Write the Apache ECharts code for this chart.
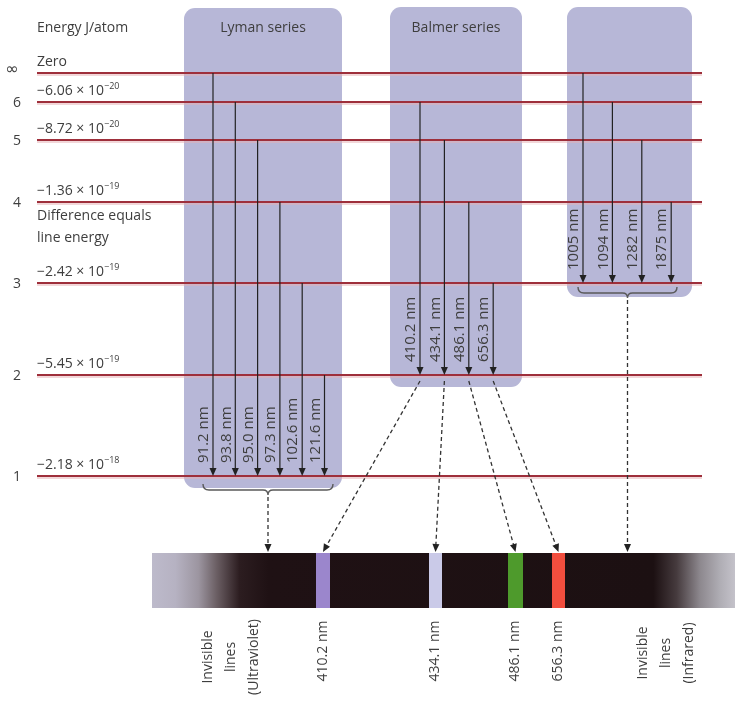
<!DOCTYPE html>
<html>
<head>
<meta charset="utf-8">
<script src="https://cdn.jsdelivr.net/npm/echarts@6/dist/echarts.min.js"></script>
<style>
html, body { margin: 0; padding: 0; background: #fff; }
#main { width: 735px; height: 707px; }
</style>
</head>
<body>
<div id="main"></div>
<script>
// energy levels of the hydrogen atom
const levelNames = ['∞', '6', '5', '4', '3', '2', '1'];
const levelMantissa = ['Zero', '−6.06', '−8.72', '−1.36', '−2.42', '−5.45', '−2.18'];
const levelExponent = ['', '−20', '−20', '−19', '−19', '−19', '−18'];

// transitions: start level -> end level, wavelength in nm
const seriesTitles = ['Lyman series', 'Balmer series', ''];
const seriesTo = ['1', '2', '3'];
const lymanFrom = ['∞', '6', '5', '4', '3', '2'];
const lymanNm = ['91.2', '93.8', '95.0', '97.3', '102.6', '121.6'];
const balmerFrom = ['6', '5', '4', '3'];
const balmerNm = ['410.2', '434.1', '486.1', '656.3'];
const paschenFrom = ['∞', '6', '5', '4'];
const paschenNm = ['1005', '1094', '1282', '1875'];

// spectrum
const visibleNm = ['410.2', '434.1', '486.1', '656.3'];
const invisibleLabels = ['Invisible\nlines\n(Ultraviolet)', 'Invisible\nlines\n(Infrared)'];

// ---- layout (diagram space, 735 x 707) ----
const W = 735, H = 707;
const FONT = '"Open Sans", "DejaVu Sans", sans-serif';
const TEXT = '#3e3e3e';
const levelY = [73, 102, 140, 202, 283, 375, 476];
const levelX = [37, 702];
const boxRects = [[184, 8, 342, 488], [390, 7, 522, 387], [567, 7, 692, 297]];
const colX0 = [213, 420, 583];
const colStep = [22.3, 24.4, 29.4];
const bracketPos = [[203, 333, 490], [578, 677, 293]];
const specRect = [152, 553, 735, 608];
const barX = [316, 429, 508, 552];
const barW = [14, 13, 15, 13];
const barColors = ['#9b86cc', '#cacae8', '#4e9a2c', '#f24e3e'];
const invisibleX = [231, 666];
const invisibleY = [657, 653];

const families = [
  { from: lymanFrom, nm: lymanNm },
  { from: balmerFrom, nm: balmerNm },
  { from: paschenFrom, nm: paschenNm }
];
const transitions = [];
families.forEach((f, fi) => f.from.forEach((lv, k) => transitions.push([fi, k])));

const colX = (fi, k) => colX0[fi] + k * colStep[fi];
const lvY = name => levelY[levelNames.indexOf(name)];

function arrowHead(tip, from, len, half) {
  const dx = tip[0] - from[0], dy = tip[1] - from[1];
  const l = Math.sqrt(dx * dx + dy * dy);
  const ux = dx / l, uy = dy / l;
  const bx = tip[0] - ux * len, by = tip[1] - uy * len;
  return {
    type: 'polygon',
    shape: { points: [tip, [bx - uy * half, by + ux * half], [bx + uy * half, by - ux * half]] },
    style: { fill: '#222' }
  };
}

function dashedArrow(api, x1, y1, x2, y2) {
  const a = api.coord([x1, y1]), b = api.coord([x2, y2]);
  const dx = b[0] - a[0], dy = b[1] - a[1];
  const l = Math.sqrt(dx * dx + dy * dy);
  return [
    { type: 'line', shape: { x1: a[0], y1: a[1], x2: b[0] - dx / l * 6, y2: b[1] - dy / l * 6 },
      style: { stroke: '#333', lineWidth: 1.3, lineDash: [4, 3] } },
    arrowHead(b, a, 8, 3.5)
  ];
}

const txt = (p, text, size, extra) => ({
  type: 'text', x: p[0], y: p[1],
  style: Object.assign({ text: text, fill: TEXT, fontSize: size, fontFamily: FONT }, extra)
});

const chart = echarts.init(document.getElementById('main'));

const option = {
  animation: false,
  grid: { left: 0, right: 0, top: 0, bottom: 0 },
  xAxis: { type: 'value', min: 0, max: W, show: false },
  yAxis: { type: 'value', min: 0, max: H, inverse: true, show: false },
  series: [
    {
      // series boxes
      type: 'custom', silent: true, clip: false,
      data: boxRects.map((r, i) => [i, 0]),
      renderItem: (params, api) => {
        const r = boxRects[params.dataIndex];
        const a = api.coord([r[0], r[1]]), b = api.coord([r[2], r[3]]);
        const t = api.coord([(r[0] + r[2]) / 2, 28]);
        return { type: 'group', children: [
          { type: 'rect', shape: { x: a[0], y: a[1], width: b[0] - a[0], height: b[1] - a[1], r: 11 },
            style: { fill: '#b7b7d7' } },
          txt(t, seriesTitles[params.dataIndex], 14, { align: 'center', verticalAlign: 'middle' })
        ] };
      }
    },
    {
      // energy levels
      type: 'custom', silent: true, clip: false,
      data: levelNames.map((n, i) => [i, 0]),
      renderItem: (params, api) => {
        const i = params.dataIndex;
        const a = api.coord([levelX[0], levelY[i]]), b = api.coord([levelX[1], levelY[i]]);
        const num = api.coord([i === 0 ? 12 : 17, levelY[i] + (i === 0 ? -3 : 1)]);
        const lab = api.coord([levelX[0], levelY[i] - 11]);
        const text = levelExponent[i]
          ? '{m|' + levelMantissa[i] + ' × 10}{s|' + levelExponent[i] + '}'
          : '{m|' + levelMantissa[i] + '}';
        return { type: 'group', children: [
          { type: 'line', shape: { x1: a[0], y1: a[1] + 2, x2: b[0], y2: b[1] + 2 },
            style: { stroke: '#e6b0b4', lineWidth: 1.2 } },
          { type: 'line', shape: { x1: a[0], y1: a[1], x2: b[0], y2: b[1] },
            style: { stroke: '#9e2f3b', lineWidth: 2 } },
          txt(num, levelNames[i], i === 0 ? 16 : 14, {
            align: 'center', verticalAlign: 'middle',
            fontFamily: i === 0 ? '"DejaVu Sans", sans-serif' : FONT
          }),
          txt(lab, text, 14, {
            align: 'left', verticalAlign: 'middle',
            rich: {
              m: { fontSize: 14, fontFamily: FONT, fill: TEXT, lineHeight: 18 },
              s: { fontSize: 9, fontFamily: FONT, fill: TEXT, verticalAlign: 'top', lineHeight: 10 }
            }
          })
        ] };
      }
    },
    {
      // transitions
      type: 'custom', silent: true, clip: false,
      data: transitions.map((t, i) => [i, 0]),
      renderItem: (params, api) => {
        const [fi, k] = transitions[params.dataIndex];
        const f = families[fi];
        const x = colX(fi, k);
        const yFrom = lvY(f.from[k]), yTo = lvY(seriesTo[fi]);
        const a = api.coord([x, yFrom]), b = api.coord([x, yTo]);
        const lab = api.coord([x - 9, yTo - 13]);
        return { type: 'group', children: [
          { type: 'line', shape: { x1: a[0], y1: a[1], x2: b[0], y2: b[1] - 6 },
            style: { stroke: '#222', lineWidth: 1.2 } },
          arrowHead(b, a, 8, 3.5),
          Object.assign(txt(lab, f.nm[k] + ' nm', 15, { align: 'left', verticalAlign: 'middle' }),
            { rotation: Math.PI / 2 })
        ] };
      }
    },
    {
      // spectrum strip and visible lines
      type: 'custom', silent: true, clip: false,
      data: [[0, 0]],
      renderItem: (params, api) => {
        const a = api.coord([specRect[0], specRect[1]]), b = api.coord([specRect[2], specRect[3]]);
        const kids = [{
          type: 'rect', shape: { x: a[0], y: a[1], width: b[0] - a[0], height: b[1] - a[1] },
          style: { fill: new echarts.graphic.LinearGradient(0, 0, 1, 0, [
            { offset: 0, color: '#bdbacb' },
            { offset: 0.04, color: '#b6b2c2' },
            { offset: 0.08, color: '#9c95a0' },
            { offset: 0.11, color: '#6c6065' },
            { offset: 0.15, color: '#2c1d20' },
            { offset: 0.2, color: '#1f1114' },
            { offset: 0.86, color: '#1c1012' },
            { offset: 0.9, color: '#463b3e' },
            { offset: 0.94, color: '#8d888e' },
            { offset: 0.975, color: '#b0aeb5' },
            { offset: 1, color: '#c4c2ca' }
          ]) }
        }];
        visibleNm.forEach((nm, i) => {
          const p = api.coord([barX[i], specRect[1]]), q = api.coord([barX[i] + barW[i], specRect[3]]);
          kids.push({ type: 'rect', shape: { x: p[0], y: p[1], width: q[0] - p[0], height: q[1] - p[1] },
            style: { fill: barColors[i] } });
          const t = api.coord([barX[i] + barW[i] / 2, 651]);
          kids.push(Object.assign(txt(t, nm + ' nm', 14, { align: 'center', verticalAlign: 'middle' }),
            { rotation: Math.PI / 2 }));
        });
        invisibleLabels.forEach((s, i) => {
          const t = api.coord([invisibleX[i], invisibleY[i]]);
          kids.push(Object.assign(txt(t, s, 14, { align: 'center', verticalAlign: 'middle', lineHeight: 23 }),
            { rotation: Math.PI / 2 }));
        });
        return { type: 'group', children: kids };
      }
    },
    {
      // brackets and dashed arrows to the spectrum
      type: 'custom', silent: true, clip: false,
      data: [[0, 0]],
      renderItem: (params, api) => {
        const kids = [];
        bracketPos.forEach(br => {
          const a = api.coord([br[0], br[2]]), b = api.coord([br[1], br[2]]);
          const m = (a[0] + b[0]) / 2, y = a[1];
          const d = 'M' + a[0] + ' ' + (y - 6) + ' Q' + a[0] + ' ' + y + ' ' + (a[0] + 6) + ' ' + y +
            ' L' + (m - 5) + ' ' + y + ' Q' + m + ' ' + y + ' ' + m + ' ' + (y + 5) +
            ' Q' + m + ' ' + y + ' ' + (m + 5) + ' ' + y +
            ' L' + (b[0] - 6) + ' ' + y + ' Q' + b[0] + ' ' + y + ' ' + b[0] + ' ' + (y - 6);
          kids.push({ type: 'path', shape: { pathData: d }, style: { stroke: '#5a5a5a', lineWidth: 1.4, fill: null } });
          const mx = (br[0] + br[1]) / 2;
          kids.push(...dashedArrow(api, mx, br[2] + 7, mx, specRect[1] - 1));
        });
        balmerFrom.forEach((lv, k) => {
          kids.push(...dashedArrow(api, colX(1, k), lvY(seriesTo[1]) + 6,
            barX[k] + barW[k] / 2, specRect[1] - 1));
        });
        return { type: 'group', children: kids };
      }
    },
    {
      // axis caption and note
      type: 'custom', silent: true, clip: false,
      data: [[0, 0]],
      renderItem: (params, api) => ({ type: 'group', children: [
        txt(api.coord([levelX[0], 28]), 'Energy J/atom', 14, { align: 'left', verticalAlign: 'middle' }),
        txt(api.coord([levelX[0], 227]), 'Difference equals\nline energy', 14,
          { align: 'left', verticalAlign: 'middle', lineHeight: 22 })
      ] })
    }
  ]
};

chart.setOption(option);
</script>
</body>
</html>
